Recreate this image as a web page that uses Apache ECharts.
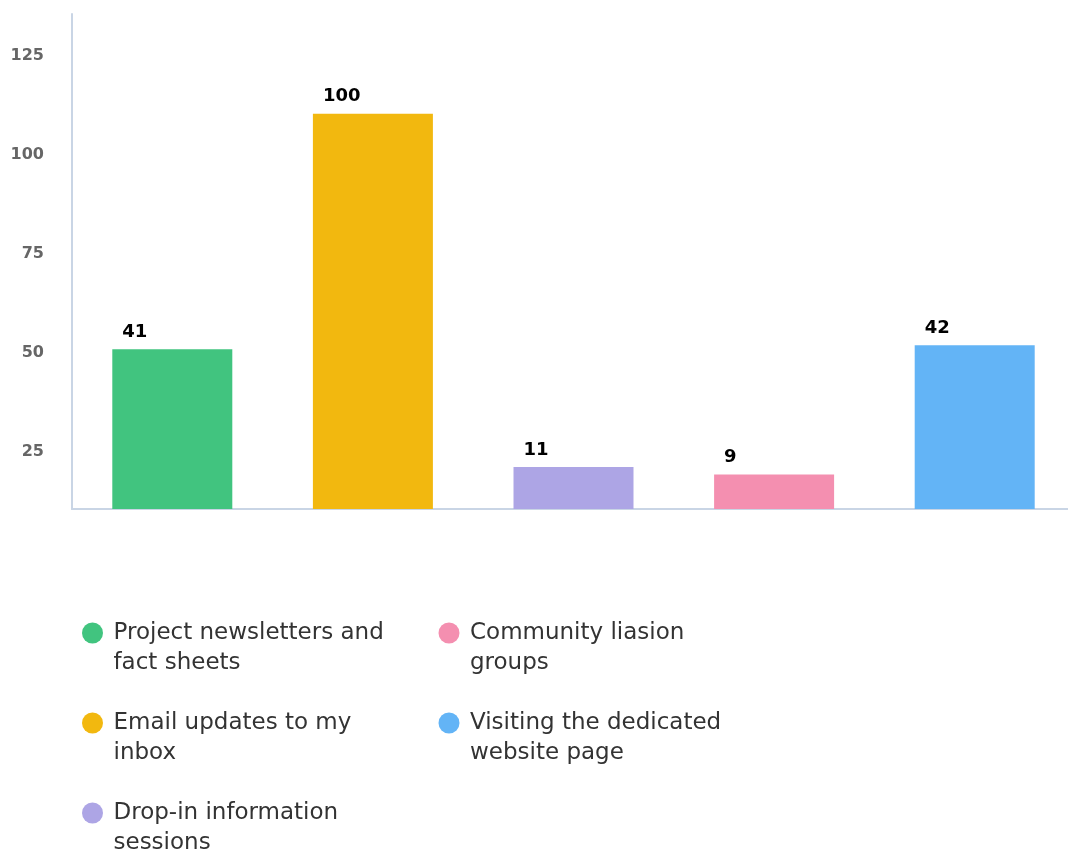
<!DOCTYPE html>
<html>
<head>
<meta charset="utf-8">
<script src="https://cdn.jsdelivr.net/npm/echarts@6/dist/echarts.min.js"></script>
<style>
  html, body { margin: 0; padding: 0; background: #ffffff; }
  #chart { width: 1068px; height: 856px; }
</style>
</head>
<body>
<div id="chart"></div>
<script>
// Categories (legend names)
const categories = [
  'Project newsletters and fact sheets',
  'Email updates to my inbox',
  'Drop-in information sessions',
  'Community liasion groups',
  'Visiting the dedicated website page'
];
// Bar heights as read against the y axis
const barHeights = [50.4, 110, 20.6, 18.7, 51.4];
// Value labels printed above bars
const valueLabels = [41, 100, 11, 9, 42];
// Y axis tick labels
const yTickLabels = [25, 50, 75, 100, 125];
const colors = ['#41c47f', '#f2b80f', '#ada5e5', '#f48fb0', '#63b4f6'];

const chart = echarts.init(document.getElementById('chart'), null, { renderer: 'canvas' });

const series = categories.map((name, i) => ({
  name: name,
  type: 'bar',
  stack: 'all',
  barWidth: 120,
  itemStyle: { color: colors[i] },
  data: categories.map((c, j) => (j === i ? barHeights[i] : '-')),
  label: {
    show: true,
    position: [10, -8],
    align: 'left',
    verticalAlign: 'bottom',
    formatter: () => String(valueLabels[i]),
    fontFamily: 'DejaVu Sans',
    fontWeight: 'bold',
    fontSize: 18,
    color: '#000000'
  },
  emphasis: { disabled: true }
}));

chart.setOption({
  animation: false,
  color: colors,
  grid: { left: 72, width: 1003, top: 14, bottom: 347, containLabel: false, outerBoundsMode: 'none' },
  xAxis: {
    type: 'category',
    data: categories,
    axisLine: { show: true, lineStyle: { color: '#c9d5e5', width: 2 } },
    axisTick: { show: false },
    axisLabel: { show: false },
    splitLine: { show: false }
  },
  yAxis: {
    type: 'value',
    min: 10,
    max: 135.2,
    axisLine: { show: true, lineStyle: { color: '#c9d5e5', width: 2 } },
    axisTick: { show: false },
    splitLine: { show: false },
    axisLabel: {
      customValues: yTickLabels,
      margin: 28,
      fontFamily: 'DejaVu Sans',
      fontWeight: 'bold',
      fontSize: 16,
      color: '#666666',
      verticalAlign: 'top',
      lineHeight: 4
    }
  },
  legend: {
    orient: 'vertical',
    left: 82,
    top: 588,
    height: 275,
    padding: 0,
    itemGap: 0,
    itemWidth: 32,
    itemHeight: 21,
    icon: 'circle',
    selectedMode: false,
    data: categories,
    formatter: (name) => '\n' + name,
    textStyle: {
      fontFamily: 'DejaVu Sans',
      fontSize: 23,
      lineHeight: 30,
      color: '#333333',
      width: 289,
      overflow: 'break',
      padding: [0, 36, 0, 0]
    }
  },
  series: series
});
</script>
</body>
</html>
